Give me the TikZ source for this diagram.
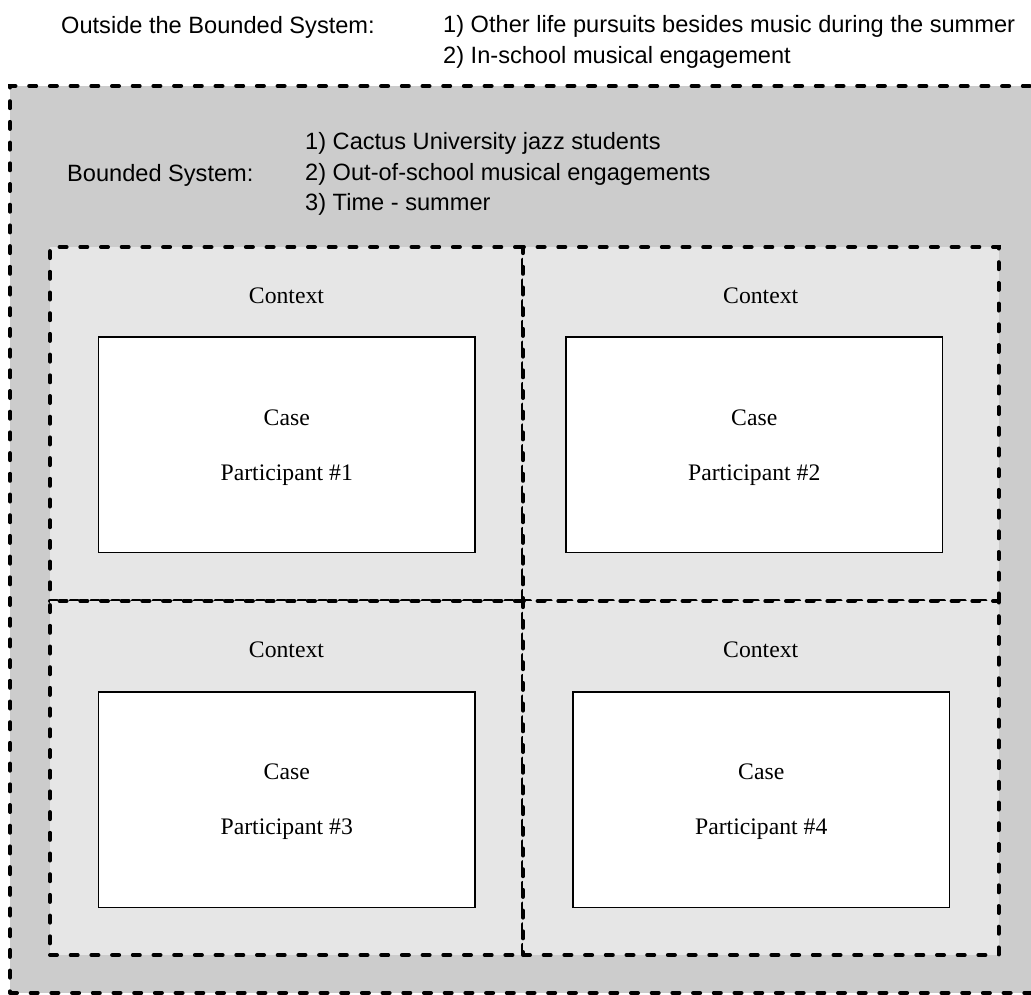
\documentclass[tikz,border=0pt]{standalone}
\usepackage{fontspec}
\setmainfont{Liberation Serif}
\newfontfamily\helv{Liberation Sans}
\usetikzlibrary{positioning}
\definecolor{boundgray}{HTML}{CCCCCC}
\definecolor{ctxgray}{HTML}{E6E6E6}

\begin{document}
\begin{tikzpicture}[
    x=1pt, y=-1pt,
    dashbox/.style={draw, line width=4pt, dash pattern=on 7pt off 13.7pt, line cap=round},
    cell/.style={rectangle, dashbox, fill=ctxgray, minimum height=354pt, inner sep=0pt, outer sep=0pt, anchor=north west},
    casebox/.style={rectangle, draw, line width=1.5pt, fill=white, minimum width=376.5pt, minimum height=215.5pt, text depth=0pt, align=center, font=\fontsize{23.7}{55}\selectfont},
    lbl/.style={inner sep=0pt, anchor=west, align=left, font=\fontsize{23.6}{30.5}\selectfont\helv},
    ctx/.style={inner sep=0pt, font=\fontsize{23.7}{28}\selectfont}
  ]
    \useasboundingbox (0,0) rectangle (1031,994);
    % bounded system
    \node[rectangle, dashbox, fill=boundgray, inner sep=0pt, outer sep=0pt, anchor=north west,
      minimum width=1050pt, minimum height=907pt] (bounded) at (10,86) {};
    \node[lbl] (outlbl) at (61,27) {Outside the Bounded System:};
    \node[lbl] (outlist) at (443,42) {1) Other life pursuits besides music during the summer\\2) In-school musical engagement};
    \node[lbl] (boundlbl) at (67,175) {Bounded System:};
    \node[lbl] (boundlist) at (305,174) {1) Cactus University jazz students\\2) Out-of-school musical engagements\\3) Time - summer};
    % context cells
    \foreach \n/\x/\y/\w in {1/50/247/473, 2/523/247/475.5, 3/50/601/473, 4/523/601/475.5}
      \node[cell, minimum width=\w pt] (cell\n) at (\x,\y) {};
    \foreach \n in {1,2,3,4}
      \node[ctx, below=41pt of cell\n.north] (ctx\n) {Context};
    % cases
    \node[casebox] (case1) at (286.75,444.75) {Case\\Participant \#1};
    \node[casebox] (case2) at (754.25,444.75) {Case\\Participant \#2};
    \node[casebox] (case3) at (286.75,799.5) {Case\\Participant \#3};
    \node[casebox] (case4) at (761.25,799.5) {Case\\Participant \#4};
  \end{tikzpicture}
\end{document}
